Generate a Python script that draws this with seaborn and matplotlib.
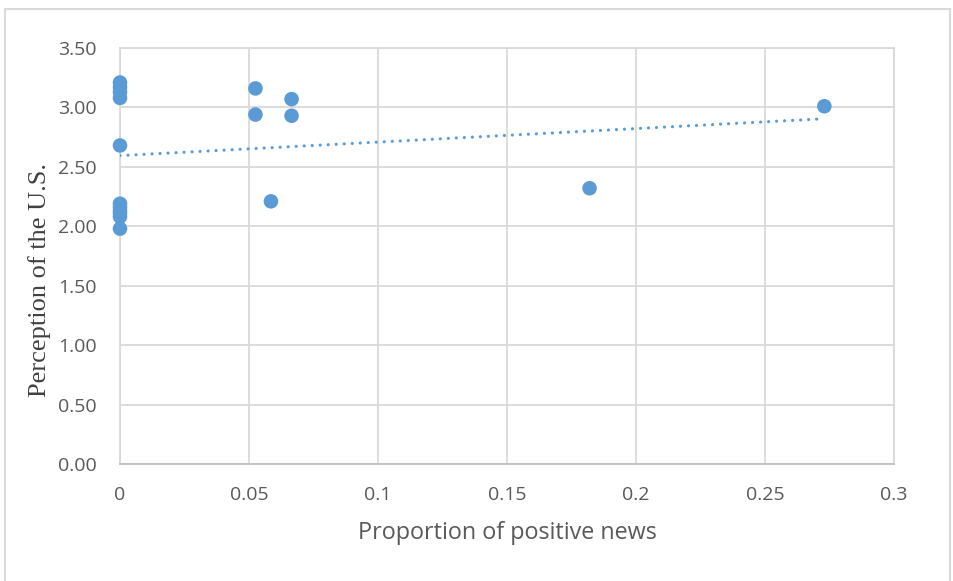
import matplotlib
matplotlib.use("Agg")
import matplotlib.pyplot as plt
import seaborn as sns
import numpy as np
import pandas as pd
from matplotlib.patches import Rectangle

# Values
positive_share = [0, 0, 0, 0, 0, 0, 0, 0, 0, 0, 0,
                  0.0525, 0.0525, 0.0665, 0.0665, 0.0585, 0.182, 0.273]
us_perception = [3.21, 3.17, 3.13, 3.08, 2.68, 2.19, 2.16, 2.13, 2.11, 2.08, 1.98,
                 3.16, 2.94, 3.07, 2.93, 2.21, 2.32, 3.01]
x_ticks = [0, 0.05, 0.1, 0.15, 0.2, 0.25, 0.3]
x_tick_labels = ["0", "0.05", "0.1", "0.15", "0.2", "0.25", "0.3"]
y_ticks = [0, 0.5, 1.0, 1.5, 2.0, 2.5, 3.0, 3.5]

df = pd.DataFrame({"share": positive_share, "perception": us_perception})

sns.set_style("white")
plt.rcParams["font.family"] = ["Open Sans", "DejaVu Sans"]

blue = "#5B9BD5"
grid_grey = "#D9D9D9"
text_grey = "#595959"

fig = plt.figure(figsize=(9.54, 5.81), dpi=100)
ax = fig.add_axes([120 / 954, 1 - 464 / 581, (894 - 120) / 954, (464 - 48) / 581])

# chart-area border like the Office frame
fig.patches.append(Rectangle((5 / 954, -0.05), (950 - 5) / 954, 1.05 - 9 / 581,
                             transform=fig.transFigure, fill=False,
                             edgecolor=grid_grey, linewidth=1.5))

sns.regplot(data=df, x="share", y="perception", ci=None, ax=ax,
            scatter_kws=dict(s=110, color=blue, alpha=1, edgecolors="none",
                             zorder=4, clip_on=False),
            line_kws=dict(color=blue, linewidth=2.3, linestyle=(0, (0.01, 2.5)),
                          dash_capstyle="round", zorder=3))

ax.set_xlim(0, 0.3)
ax.set_ylim(0, 3.5)
ax.set_xticks(x_ticks)
ax.set_xticklabels(x_tick_labels)
ax.set_yticks(y_ticks)
ax.set_yticklabels([f"{v:.2f}" for v in y_ticks])

ax.grid(True, color=grid_grey, linewidth=1.3)
ax.set_axisbelow(True)
for side in ["top", "right", "left"]:
    ax.spines[side].set_color(grid_grey)
    ax.spines[side].set_linewidth(1.3)
ax.spines["bottom"].set_color("#BFBFBF")
ax.spines["bottom"].set_linewidth(1.3)

ax.tick_params(axis="both", length=0, labelsize=14, colors=text_grey)
ax.tick_params(axis="x", pad=16)
ax.tick_params(axis="y", pad=17)

ax.set_xlabel("Proportion of positive news", fontsize=16.8, color=text_grey, labelpad=12)
ax.set_ylabel("Perception of the U.S.", fontsize=19, color="#404040",
              family=["Liberation Serif", "DejaVu Serif"])
ax.yaxis.set_label_coords(-0.089, 0.442)

fig.savefig("out.png", dpi=100)
plt.close(fig)
